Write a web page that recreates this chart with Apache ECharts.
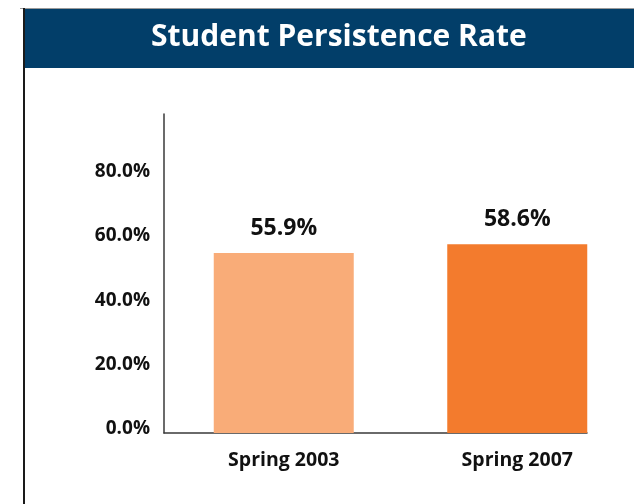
<!DOCTYPE html>
<html>
<head>
<meta charset="utf-8">
<script src="https://cdn.jsdelivr.net/npm/echarts@6/dist/echarts.min.js"></script>
<style>
html,body{margin:0;padding:0;background:#fff;}
#chart{width:634px;height:504px;}
</style>
</head>
<body>
<div id="chart"></div>
<script>
const titleText = "Student Persistence Rate";
const categories = ["Spring 2003", "Spring 2007"];
const values = [55.9, 58.6];
const barColors = ["#f9ac78", "#f37b2d"];
const yTicks = [0, 20, 40, 60, 80];

const chart = echarts.init(document.getElementById('chart'), null, {renderer: 'canvas'});
const font = '"Open Sans", sans-serif';
const option = {
  animation: false,
  backgroundColor: '#ffffff',
  graphic: [
    {type: 'rect', left: 20, top: 8, shape: {width: 614, height: 1}, style: {fill: '#9a9a9a'}},
    {type: 'rect', left: 23, top: 8, shape: {width: 2, height: 496}, style: {fill: '#1a1a1a'}},
    {type: 'rect', left: 25, top: 9, shape: {width: 609, height: 59}, style: {fill: '#023e69'}}
  ],
  title: {
    text: titleText,
    left: 146, top: 17,
    textStyle: {color: '#ffffff', fontFamily: font, fontWeight: 'bold', fontSize: 30}
  },
  grid: [
    {left: 167, right: 0, top: 114, bottom: 71},
    {left: 164, right: 47, top: 114, bottom: 71}
  ],
  xAxis: [
    {
      type: 'category', gridIndex: 0, data: categories,
      axisLine: {show: false}, axisTick: {show: false},
      axisLabel: {color: '#111', fontFamily: font, fontWeight: 'bold', fontSize: 19.5, margin: 17}
    },
    {
      type: 'category', gridIndex: 1, data: categories,
      axisLine: {show: true, lineStyle: {color: '#3a3a3a', width: 1.5}},
      axisTick: {show: false}, axisLabel: {show: false}
    }
  ],
  yAxis: [
    {type: 'value', gridIndex: 0, min: 0, max: 99, show: false},
    {
      type: 'value', gridIndex: 1, min: 0, max: 99, interval: 20,
      axisLine: {show: true, lineStyle: {color: '#3a3a3a', width: 1.5}},
      axisTick: {show: false}, splitLine: {show: false},
      axisLabel: {
        color: '#111', fontFamily: font, fontWeight: 'bold', fontSize: 19, margin: 14,
        verticalAlign: 'bottom', lineHeight: 8,
        formatter: v => yTicks.includes(v) ? v.toFixed(1) + '%' : ''
      }
    }
  ],
  series: [{
    type: 'bar', xAxisIndex: 0, yAxisIndex: 0,
    data: values.map((v, i) => ({value: v, itemStyle: {color: barColors[i]}})),
    barWidth: 140,
    label: {
      show: true, position: 'top', distance: 13,
      color: '#111', fontFamily: font, fontWeight: 'bold', fontSize: 23,
      formatter: p => p.value.toFixed(1) + '%'
    }
  }]
};
chart.setOption(option);
</script>
</body>
</html>
